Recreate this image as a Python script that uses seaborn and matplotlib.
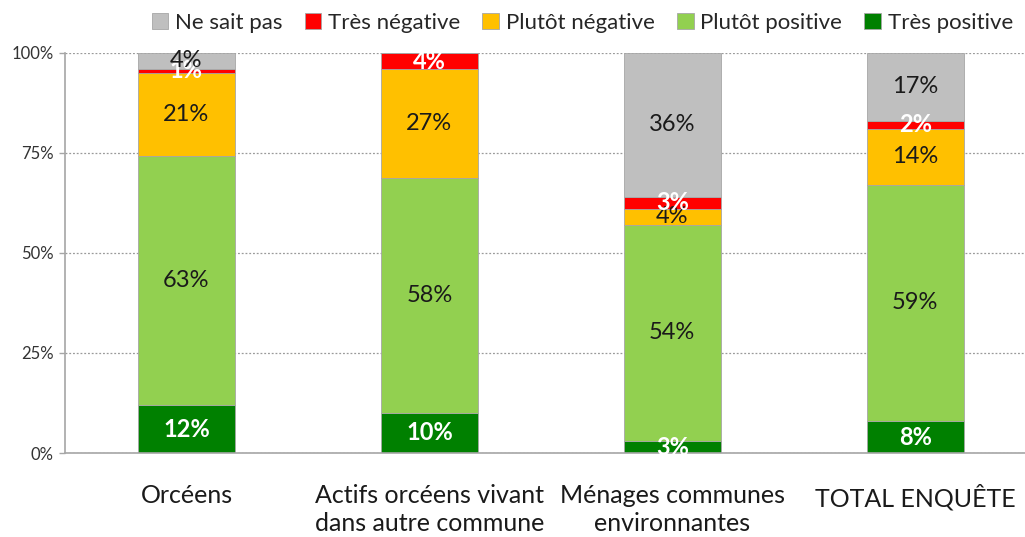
import numpy as np
import pandas as pd
import matplotlib
matplotlib.use("Agg")
import matplotlib.pyplot as plt
import seaborn as sns

# Data (percentages, stacked bottom to top)
categories = ["Orcéens", "Actifs orcéens vivant\ndans autre commune",
              "Ménages communes\nenvironnantes", "TOTAL ENQUÊTE"]
tres_positive = [12, 10, 3, 8]
plutot_positive = [63, 58, 54, 59]
plutot_negative = [21, 27, 4, 14]
tres_negative = [1, 4, 3, 2]
ne_sait_pas = [4, 0, 36, 17]

series_names = ["Très positive", "Plutôt positive", "Plutôt négative", "Très négative", "Ne sait pas"]
series_values = [tres_positive, plutot_positive, plutot_negative, tres_negative, ne_sait_pas]
series_colors = ["#008000", "#92D050", "#FFC000", "#FF0000", "#BFBFBF"]
label_white = [True, False, False, True, False]
legend_order = ["Ne sait pas", "Très négative", "Plutôt négative", "Plutôt positive", "Très positive"]

sns.set_style("white")
plt.rcParams['font.family'] = ['Lato', 'DejaVu Sans']

# normalise each bar to 100 % (Excel 100% stacked)
raw = np.array(series_values, dtype=float)
shares = raw / raw.sum(axis=0) * 100

fig = plt.figure(figsize=(10.25, 5.37), dpi=100)
ax = fig.add_axes([0.0634, 0.1564, 0.948, 0.745])

bottom = np.zeros(len(categories))
handles = {}
for name, vals, color, white in zip(series_names, shares, series_colors, label_white):
    df = pd.DataFrame({"cat": categories, "val": vals})
    sns.barplot(data=df, x="cat", y="val", order=categories, color=color,
                width=0.4, bottom=bottom, edgecolor="#A6A6A6", linewidth=0.6,
                ax=ax, errorbar=None, saturation=1)
    handles[name] = plt.Rectangle((0, 0), 1, 1, facecolor=color, edgecolor="#A6A6A6", linewidth=0.6)
    raw_vals = raw[series_names.index(name)]
    for i, (v, r) in enumerate(zip(vals, raw_vals)):
        if r <= 0:
            continue
        ax.text(i, bottom[i] + v / 2, f"{int(r)}%", ha="center", va="center",
                fontsize=17, color="white" if white else "#1a1a1a",
                fontweight="bold" if white else "normal")
    bottom = bottom + vals

ax.set_xlim(-0.5, 3.5)
ax.set_ylim(0, 100)
ax.set_yticks([0, 25, 50, 75, 100])
ax.set_yticklabels(["0%", "25%", "50%", "75%", "100%"], fontsize=12, color="#333333")
ax.yaxis.grid(True, linestyle=(0, (1.5, 1.5)), color="#9a9a9a", linewidth=0.9)
ax.set_axisbelow(True)
ax.set_xlabel("")
ax.set_ylabel("")
ax.tick_params(axis="x", labelsize=18, length=0, pad=22, colors="#1a1a1a")
ax.tick_params(axis="y", length=4, width=1, color="#A6A6A6", left=True, pad=4)
for lbl in ax.get_xticklabels():
    lbl.set_linespacing(1.3)
for s in ["top", "right"]:
    ax.spines[s].set_visible(False)
for s in ["left", "bottom"]:
    ax.spines[s].set_color("#A6A6A6")
    ax.spines[s].set_linewidth(1.2)

fig.legend([handles[n] for n in legend_order], legend_order, loc="center",
           bbox_to_anchor=(0.568, 0.957), ncol=5, frameon=False, fontsize=16,
           handlelength=0.75, handleheight=0.75, handletextpad=0.3, columnspacing=1.0)

fig.savefig("out.png", dpi=100)
